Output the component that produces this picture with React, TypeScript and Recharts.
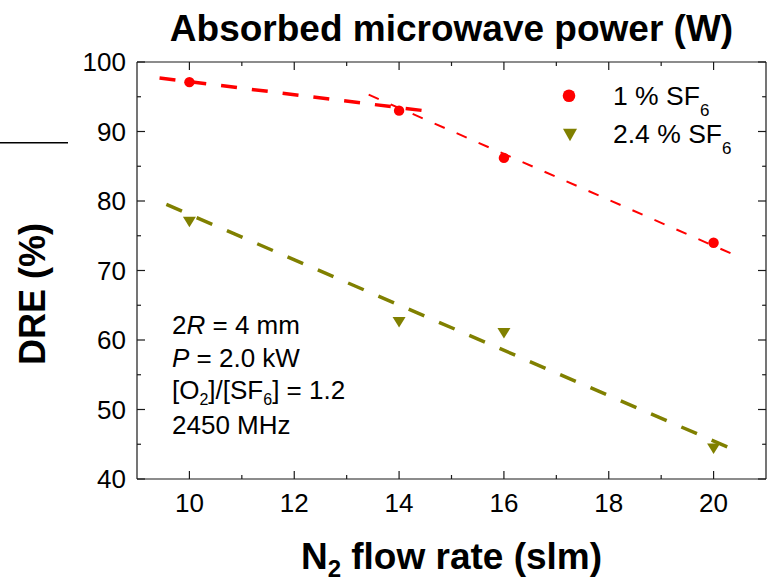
import React from 'react';
import { ComposedChart, Line, Scatter, XAxis, YAxis, Legend, Label } from 'recharts';

// ---- data ----
const flowRates = [10, 14, 16, 20];
const dre1pct = [97.1, 93.0, 86.2, 74.0];
const dre24pct = [77.0, 62.6, 61.0, 44.4];

// dashed guide lines (end points)
const fit1aX = [9.43, 14.47];
const fit1aY = [97.7, 93.0];
const fit1bX = [13.42, 20.41];
const fit1bY = [95.3, 72.2];
const fit24X = [9.56, 20.27];
const fit24Y = [79.5, 44.6];

const xMajorTicks = [10, 12, 14, 16, 18, 20];
const xMinorTicks = [11, 13, 15, 17, 19];
const yMajorTicks = [40, 50, 60, 70, 80, 90, 100];
const yMinorTicks = [45, 55, 65, 75, 85, 95];

const seriesNames = ['1 % SF', '2.4 % SF'];
const seriesSub = '6';
const titleText = 'Absorbed microwave power (W)';
const yTitle = 'DRE (%)';

// ---- styling ----
const W = 775;
const H = 582;
const FONT = '"Liberation Sans", Arial, Helvetica, sans-serif';
const AXIS = '#1a1a1a';
const RED = '#ff0000';
const OLIVE = '#808000';

const toPts = (xs: number[], ys: number[]) => xs.map((x, i) => ({ x, y: ys[i] }));
const pts1 = toPts(flowRates, dre1pct);
const pts24 = toPts(flowRates, dre24pct);
const fit1a = toPts(fit1aX, fit1aY);
const fit1b = toPts(fit1bX, fit1bY);
const fit24 = toPts(fit24X, fit24Y);

const allXTicks = [...xMajorTicks, ...xMinorTicks].sort((a, b) => a - b);
const allYTicks = [...yMajorTicks, ...yMinorTicks].sort((a, b) => a - b);

const BottomTick = (props: any) => {
  const { x, y, payload } = props;
  const v = payload.value;
  const major = xMajorTicks.includes(v);
  return (
    <g>
      <line x1={x} x2={x} y1={y} y2={y - (major ? 8 : 4)} stroke={AXIS} strokeWidth={1.2} />
      {major && (
        <text x={x} y={y + 33} textAnchor="middle" fontSize={26} fontFamily={FONT} fill="#000">
          {v}
        </text>
      )}
    </g>
  );
};

const TopTick = (props: any) => {
  const { x, y, payload } = props;
  const major = xMajorTicks.includes(payload.value);
  return <line x1={x} x2={x} y1={y} y2={y + (major ? 8 : 4)} stroke={AXIS} strokeWidth={1.2} />;
};

const LeftTick = (props: any) => {
  const { x, y, payload } = props;
  const v = payload.value;
  const major = yMajorTicks.includes(v);
  return (
    <g>
      <line x1={x} x2={x + (major ? 8 : 4)} y1={y} y2={y} stroke={AXIS} strokeWidth={1.2} />
      {major && (
        <text x={x - 11} y={y + 9} textAnchor="end" fontSize={26} fontFamily={FONT} fill="#000">
          {v}
        </text>
      )}
    </g>
  );
};

const RightTick = (props: any) => {
  const { x, y, payload } = props;
  const major = yMajorTicks.includes(payload.value);
  return <line x1={x} x2={x - (major ? 8 : 4)} y1={y} y2={y} stroke={AXIS} strokeWidth={1.2} />;
};

const TitleLabel = (props: any) => {
  const vb = props.viewBox;
  const cx = vb && vb.width ? vb.x + vb.width / 2 : 451.5;
  return (
    <text x={cx} y={41} textAnchor="middle" fontSize={37} fontWeight="bold" fontFamily={FONT} fill="#000">
      {titleText}
    </text>
  );
};

const XTitleLabel = (props: any) => {
  const vb = props.viewBox;
  const cx = vb && vb.width ? vb.x + vb.width / 2 : 451.5;
  return (
    <text x={cx} y={569} textAnchor="middle" fontSize={37} fontWeight="bold" fontFamily={FONT} fill="#000">
      N<tspan fontSize={24} dy={8}>2</tspan>
      <tspan dy={-8}> flow rate (slm)</tspan>
    </text>
  );
};

const YTitleLabel = () => (
  <text
    x={45}
    y={294}
    transform="rotate(-90, 45, 294)"
    textAnchor="middle"
    fontSize={36}
    fontWeight="bold"
    fontFamily={FONT}
    fill="#000"
  >
    {yTitle}
  </text>
);

const CircleShape = (p: any) => <circle cx={p.cx} cy={p.cy} r={5.2} fill={RED} />;
const TriShape = (p: any) => (
  <path d={`M${p.cx - 6.5},${p.cy - 5} L${p.cx + 6.5},${p.cy - 5} L${p.cx},${p.cy + 5.5} Z`} fill={OLIVE} />
);

const LegendContent = () => (
  <svg width={210} height={90} style={{ display: 'block' }}>
    <circle cx={19} cy={15.7} r={6.3} fill={RED} />
    <text x={63} y={25} fontSize={26.5} fontFamily={FONT} fill="#000">
      {seriesNames[0]}
      <tspan fontSize={17} dy={11}>{seriesSub}</tspan>
    </text>
    <path d="M13,48.7 L27,48.7 L20,61.3 Z" fill={OLIVE} />
    <text x={63} y={63} fontSize={26.5} fontFamily={FONT} fill="#000">
      {seriesNames[1]}
      <tspan fontSize={17} dy={11}>{seriesSub}</tspan>
    </text>
  </svg>
);

export default function App() {
  return (
    <div style={{ position: 'absolute', left: 0, top: 0, width: W, height: H, background: '#fff' }}>
      <ComposedChart width={W} height={H} margin={{ top: 61, right: 8, bottom: 0, left: 0 }}>
        <XAxis
          xAxisId="b"
          type="number"
          dataKey="x"
          domain={[9, 21]}
          allowDataOverflow
          ticks={allXTicks}
          interval={0}
          tickLine={false}
          tickSize={0}
          tickMargin={0}
          height={103}
          axisLine={{ stroke: AXIS, strokeWidth: 1.2 }}
          tick={BottomTick}
        >
          <Label content={XTitleLabel} />
        </XAxis>
        <XAxis
          xAxisId="t"
          orientation="top"
          type="number"
          dataKey="x"
          domain={[9, 21]}
          allowDataOverflow
          ticks={allXTicks}
          interval={0}
          tickLine={false}
          tickSize={0}
          tickMargin={0}
          height={1}
          axisLine={{ stroke: AXIS, strokeWidth: 1.2 }}
          tick={TopTick}
        >
          <Label content={TitleLabel} />
        </XAxis>
        <YAxis
          yAxisId="l"
          type="number"
          dataKey="y"
          domain={[40, 100]}
          allowDataOverflow
          ticks={allYTicks}
          interval={0}
          tickLine={false}
          tickSize={0}
          tickMargin={0}
          width={137}
          axisLine={{ stroke: AXIS, strokeWidth: 1.2 }}
          tick={LeftTick}
        >
          <Label content={YTitleLabel} />
        </YAxis>
        <YAxis
          yAxisId="r"
          orientation="right"
          type="number"
          dataKey="y"
          domain={[40, 100]}
          allowDataOverflow
          ticks={allYTicks}
          interval={0}
          tickLine={false}
          tickSize={0}
          tickMargin={0}
          width={1}
          axisLine={{ stroke: AXIS, strokeWidth: 1.2 }}
          tick={RightTick}
        />
        <Legend
          content={LegendContent}
          layout="horizontal"
          verticalAlign="middle"
          align="center"
          wrapperStyle={{ position: 'absolute', left: 550, top: 80, width: 210, height: 90 }}
        />
        <Line xAxisId="t" yAxisId="r" data={fit1a} dataKey="y" type="linear" stroke={RED} strokeWidth={3.5}
          strokeDasharray="16 15" dot={false} activeDot={false} isAnimationActive={false} legendType="none" />
        <Line xAxisId="t" yAxisId="r" data={fit1b} dataKey="y" type="linear" stroke={RED} strokeWidth={2}
          strokeDasharray="11 13" dot={false} activeDot={false} isAnimationActive={false} legendType="none" />
        <Line xAxisId="t" yAxisId="r" data={fit24} dataKey="y" type="linear" stroke={OLIVE} strokeWidth={3.5}
          strokeDasharray="17 16" dot={false} activeDot={false} isAnimationActive={false} legendType="none" />
        <Scatter xAxisId="b" yAxisId="l" name={seriesNames[0]} data={pts1} dataKey="y" shape={CircleShape}
          isAnimationActive={false} />
        <Scatter xAxisId="b" yAxisId="l" name={seriesNames[1]} data={pts24} dataKey="y" shape={TriShape}
          isAnimationActive={false} />
      </ComposedChart>
      <svg width={W} height={H} style={{ position: 'absolute', left: 0, top: 0, pointerEvents: 'none' }}>
        <line x1={0} x2={68} y1={142.7} y2={142.7} stroke="#000" strokeWidth={1.5} />
        <g fontFamily={FONT} fontSize={26} fill="#000">
          <text x={172} y={334}>
            2<tspan fontStyle="italic">R</tspan> = 4 mm
          </text>
          <text x={172} y={367}>
            <tspan fontStyle="italic">P</tspan> = 2.0 kW
          </text>
          <text x={172} y={399}>
            [O<tspan fontSize={16} dy={6}>2</tspan>
            <tspan dy={-6}>]/[SF</tspan>
            <tspan fontSize={16} dy={6}>6</tspan>
            <tspan dy={-6}>] = 1.2</tspan>
          </text>
          <text x={172} y={434}>2450 MHz</text>
        </g>
      </svg>
    </div>
  );
}
